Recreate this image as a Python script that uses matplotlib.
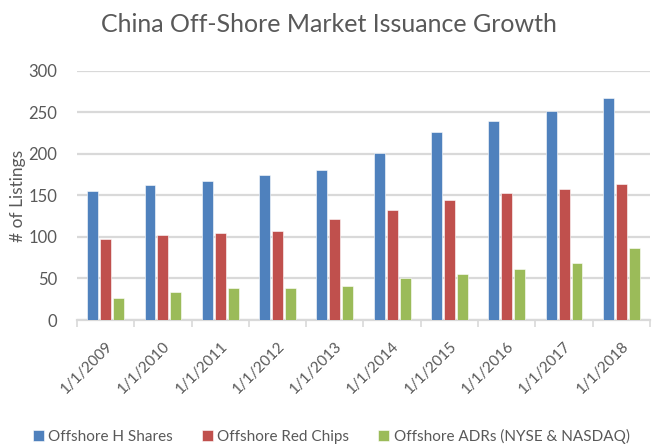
import numpy as np
import matplotlib
matplotlib.use('Agg')
import matplotlib.pyplot as plt
from matplotlib.ticker import FixedLocator

# Daten
years = ['1/1/2009', '1/1/2010', '1/1/2011', '1/1/2012', '1/1/2013',
         '1/1/2014', '1/1/2015', '1/1/2016', '1/1/2017', '1/1/2018']
h_shares = [155, 162, 167, 175, 181, 201, 227, 240, 252, 267]
red_chips = [97, 102, 105, 107, 122, 132, 145, 153, 158, 164]
adrs = [26, 34, 38, 39, 41, 50, 56, 61, 69, 87]
series_names = ['Offshore H Shares', 'Offshore Red Chips', 'Offshore ADRs (NYSE & NASDAQ)']
colors = ['#4F81BD', '#C0504D', '#9BBB59']

plt.rcParams['font.family'] = ['Lato', 'DejaVu Sans']
text_color = '#595959'

fig = plt.figure(figsize=(6.52, 4.46), dpi=100)
ax = fig.add_axes([0.118, 0.2825, 0.879, 0.5585])

x = np.arange(len(years))
w = 0.19
off = 0.226
for i, vals in enumerate([h_shares, red_chips, adrs]):
    ax.bar(x + (i - 1) * off, vals, width=w, color=colors[i],
           edgecolor='white', linewidth=0.4, label=series_names[i], zorder=3)

ax.set_xlim(-0.5, len(years) - 0.5)
ax.set_ylim(0, 300)
ax.set_yticks(range(0, 301, 50))
ax.yaxis.grid(True, color='#D9D9D9', linewidth=1.6, zorder=0)
ax.tick_params(axis='y', length=0, labelsize=12, labelcolor=text_color, pad=14)

ax.set_xticks(x)
ax.set_xticklabels(years, rotation=45, ha='right', rotation_mode='anchor',
                   fontsize=11, color=text_color)
ax.tick_params(axis='x', which='major', length=0, pad=14)
ax.xaxis.set_minor_locator(FixedLocator(np.arange(-0.5, len(years), 1.0)))
ax.tick_params(axis='x', which='minor', length=5, color='#D9D9D9', width=1.2)

for s in ['top', 'right', 'left']:
    ax.spines[s].set_visible(False)
ax.spines['bottom'].set_color('#D9D9D9')
ax.spines['bottom'].set_linewidth(1.6)

ax.set_ylabel('# of Listings', fontsize=12.5, color=text_color, labelpad=2)
fig.text(0.505, 0.944, 'China Off-Shore Market Issuance Growth', ha='center', va='center',
         fontsize=18, color=text_color)

fig.legend(loc='center', bbox_to_anchor=(0.508, 0.022), ncol=3, frameon=False,
           fontsize=11, handlelength=0.7, handleheight=0.7, handletextpad=0.3,
           columnspacing=1.9, labelcolor=text_color)

fig.savefig('out.png', dpi=100)
